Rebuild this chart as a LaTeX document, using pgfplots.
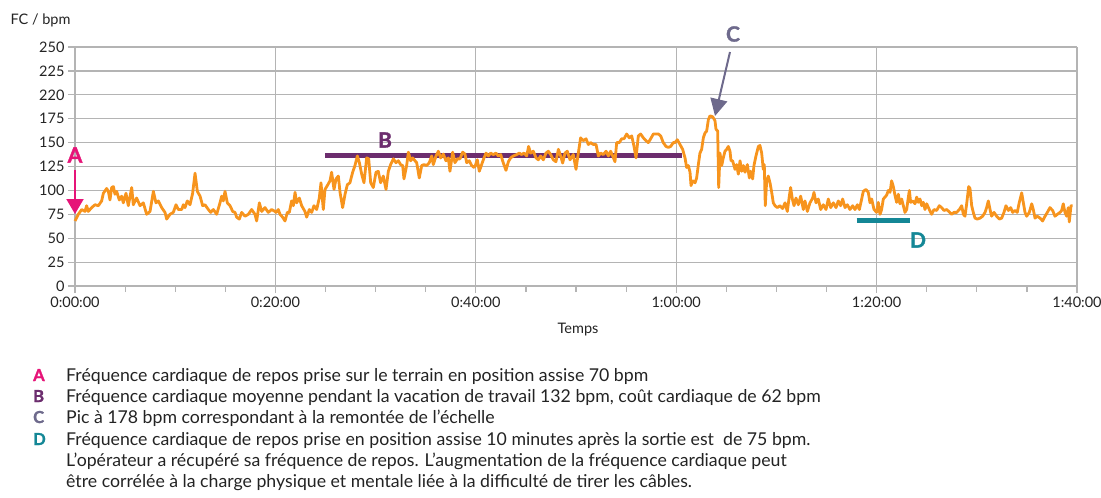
\documentclass[border=0pt]{standalone}
\usepackage{pgfplots}
\pgfplotsset{compat=1.18}
\usepackage{fontspec}
\setmainfont{Lato}
\newfontfamily\heavy{Lato}[BoldFeatures={FakeBold=1.6}]
\usetikzlibrary{arrows.meta}
\definecolor{hr}{RGB}{247,148,29}
\definecolor{grd}{RGB}{180,180,180}
\definecolor{cA}{RGB}{230,20,120}
\definecolor{cB}{RGB}{108,45,110}
\definecolor{cC}{RGB}{110,106,140}
\definecolor{cD}{RGB}{20,135,150}
\definecolor{txt}{RGB}{35,35,35}
\begin{document}
\begin{tikzpicture}
\path[use as bounding box] (0pt,0pt) rectangle (1101pt,-498pt);
\begin{axis}[
 at={(75pt,-286pt)}, anchor=south west, scale only axis, width=1002pt, height=239pt,
 xmin=0, xmax=100, ymin=0, ymax=250,
 axis lines=left, axis line style={-, draw=grd, line width=1.2pt},
 xtick={0,20,...,100}, xticklabels={0:00:00,0:20:00,0:40:00,1:00:00,1:20:00,1:40:00},
 minor x tick num=3,
 ytick={0,25,...,250}, yticklabels={0,25,50,75,100,125,150,175,220,225,250},
 grid=major, major grid style={draw=grd, line width=1.2pt},
 tick align=outside, major tick length=7pt, minor tick length=6pt,
 tick style={draw=grd, line width=1.2pt},
 tick label style={font=\fontsize{14.5}{16}\selectfont, text=txt},
 clip=false,
]
\addplot[cB, line width=5pt] coordinates {(24.95,136) (60.6,136)};
\addplot[cD, line width=4.5pt] coordinates {(78.0,68.5) (83.3,68.5)};
\addplot[hr, line width=2.8pt, line join=round] coordinates {
(0,68) (0.33,75) (0.67,80) (1.0,78) (1.16,84) (1.33,78) (1.66,82) (2.0,85) (2.33,84) (2.66,89) (2.83,97) (3.16,102) (3.33,99) (3.49,90) (3.66,103) (3.83,104) (3.99,96) (4.16,99) (4.42,90) (4.66,94) (4.82,87) (5.09,97) (5.32,84) (5.66,103) (5.82,85) (6.15,92) (6.49,84) (6.82,87) (7.15,75) (7.49,78) (7.82,99) (8.08,87) (8.32,89) (8.65,82) (8.98,77) (9.15,70) (9.48,75) (9.81,77) (10.08,85) (10.31,80) (10.65,80) (10.81,85) (10.98,82) (11.21,89) (11.48,85) (11.74,97) (11.98,118) (12.21,99) (12.48,94) (12.74,84) (12.97,85) (13.31,80) (13.54,77) (13.81,80) (14.14,75) (14.47,87) (14.64,94) (14.80,89) (14.97,99) (15.2,87) (15.47,84) (15.74,78) (15.97,77) (16.13,72) (16.4,70) (16.63,77) (16.97,73) (17.3,75) (17.63,80) (17.96,75) (18.13,68) (18.4,87) (18.63,78) (18.96,82) (19.29,77) (19.63,80) (19.96,78)
(20.06,77) (20.29,80) (20.46,75) (20.72,72) (20.96,68) (21.19,77) (21.39,77) (21.62,89) (21.79,84) (21.96,98) (22.12,87) (22.39,92) (22.62,84) (22.95,78) (23.12,72) (23.39,80) (23.62,77) (23.85,84) (24.12,80) (24.38,92) (24.55,108) (24.78,80) (24.95,101) (25.18,105) (25.45,110) (25.61,119) (25.85,101) (26.05,112) (26.28,115) (26.45,98) (26.71,82) (26.95,96) (27.18,106) (27.44,108) (27.71,119) (27.94,126) (28.18,136) (28.38,129) (28.61,117) (28.84,108) (29.11,134) (29.31,133) (29.51,108) (29.77,103) (30.04,119) (30.27,120) (30.5,108) (30.77,115) (31.04,101) (31.27,120) (31.5,127) (31.77,133) (32.03,129) (32.27,131) (32.5,127) (32.7,126) (32.83,112) (33.1,126) (33.27,140) (33.5,131) (33.7,134) (33.93,131) (34.1,129) (34.36,113) (34.6,126) (34.83,127) (35.1,126) (35.36,129) (35.6,136) (35.76,127) (36.03,136) (36.26,141) (36.49,134) (36.76,138) (37.02,131) (37.26,134) (37.42,120) (37.69,140) (37.92,129) (38.16,133) (38.42,133) (38.69,140) (38.92,138) (39.09,129) (39.35,131) (39.59,126) (39.82,124)
(39.92,125) (40.15,132) (40.35,120) (40.58,127) (40.82,134) (41.02,139) (41.25,136) (41.48,139) (41.75,137.5) (42.01,139) (42.25,136) (42.48,137.5) (42.75,128.6) (43.01,121) (43.25,130) (43.48,134) (43.74,136) (44.08,137.5) (44.34,139) (44.58,137.5) (44.81,139) (45.08,136) (45.27,146) (45.47,139) (45.74,141) (46.01,134) (46.24,132) (46.47,136) (46.74,132) (47.0,139) (47.24,141) (47.47,137.5) (47.74,132) (48.0,130) (48.24,143) (48.47,136) (48.67,128.6) (48.9,139) (49.13,141) (49.4,132) (49.73,137.5) (50.0,122) (50.23,139) (50.46,155) (50.73,152) (51.0,154) (51.23,148) (51.46,150) (51.73,148) (52.0,148) (52.23,136) (52.46,139) (52.73,137.5) (53.0,141) (53.23,136) (53.46,141) (53.66,136) (53.89,130) (54.06,150) (54.32,150) (54.56,154) (54.79,154) (55.06,159) (55.32,155) (55.56,157) (55.79,146) (55.99,134) (56.22,157) (56.45,159) (56.72,155) (56.98,152) (57.22,150) (57.45,154) (57.72,159) (57.98,159) (58.22,159) (58.45,157) (58.71,150) (58.98,146) (59.21,145) (59.45,146) (59.71,150)
(59.88,150) (60.11,153) (60.38,148) (60.64,143) (60.88,134) (61.04,124) (61.21,126) (61.38,119) (61.48,105) (61.64,110) (61.88,108) (62.04,113) (62.21,127) (62.37,139) (62.54,143) (62.71,155) (62.87,160) (63.04,162) (63.21,174) (63.37,178) (63.64,177) (63.87,173) (63.97,164) (64.14,162) (64.24,103) (64.37,139) (64.54,126) (64.7,134) (64.87,141) (65.04,143) (65.2,146) (65.37,141) (65.47,131) (65.63,131) (65.87,122) (66.03,127) (66.2,117) (66.37,131) (66.53,120) (66.7,126) (66.87,119) (67.1,127) (67.3,113) (67.43,120) (67.63,112) (67.76,126) (67.96,136) (68.2,146) (68.36,147) (68.53,139) (68.69,122) (68.79,127) (68.89,84) (69.03,110) (69.19,115) (69.36,108) (69.53,98) (69.69,87) (69.86,84) (70.09,82) (70.36,84) (70.62,81) (70.86,87) (71.09,78) (71.29,94) (71.42,103) (71.59,91) (71.76,84) (71.95,92) (72.19,85) (72.42,94) (72.69,80) (72.85,89) (73.09,78) (73.35,87) (73.62,92) (73.75,98) (73.95,87) (74.18,91) (74.42,80) (74.68,85) (74.95,80) (75.18,91) (75.42,82) (75.68,87) (75.95,82) (76.18,89) (76.41,84) (76.61,91) (76.85,82) (77.08,85) (77.34,80) (77.61,84) (77.84,80) (78.08,85) (78.28,80) (78.51,91) (78.67,99) (78.94,101) (79.17,98) (79.34,87) (79.51,91) (79.74,80)
(79.84,79) (80.0,77) (80.17,87.5) (80.34,75) (80.5,80) (80.67,91) (80.84,93) (81.0,95) (81.17,100) (81.34,98) (81.5,110) (81.67,104) (81.83,95) (82.0,87.5) (82.17,96) (82.33,86) (82.5,91) (82.67,84) (82.83,77) (83.0,80) (83.17,93) (83.27,100) (83.4,87.5) (83.6,89) (83.83,86) (84.0,93) (84.16,87.5) (84.33,91) (84.5,84) (84.66,87.5) (84.83,80) (85.0,86) (85.26,80) (85.49,75) (85.73,80) (85.99,79) (86.26,84) (86.49,82) (86.73,79) (86.99,80) (87.26,77.5) (87.49,75) (87.72,77) (87.99,77) (88.26,80) (88.49,84) (88.66,75) (88.82,73) (88.99,86) (89.19,104) (89.32,102) (89.49,84) (89.65,77) (89.82,71) (90.05,70) (90.32,71) (90.58,73) (90.82,77) (90.98,82) (91.15,89) (91.32,80) (91.48,73) (91.72,77) (91.98,73) (92.25,70) (92.48,71) (92.71,77) (92.91,84) (93.15,79) (93.38,82) (93.58,77) (93.81,79) (94.04,77) (94.24,87.5) (94.48,97.5) (94.64,87.5) (94.81,77) (94.98,73) (95.24,77) (95.48,86) (95.64,80) (95.81,71) (96.04,73) (96.31,71) (96.57,68) (96.81,73) (97.04,77) (97.3,82) (97.57,79) (97.8,73) (98.04,75) (98.3,77) (98.47,79) (98.63,86) (98.8,77) (98.97,73) (99.13,82) (99.23,67) (99.4,84) (99.57,84)
};
\end{axis}
% axis titles
\node[anchor=base west, font=\fontsize{14.5}{16}\selectfont, text=txt] at (7pt,-24pt) {FC / bpm};
\node[anchor=base, font=\fontsize{14.5}{16}\selectfont, text=txt] at (578pt,-333pt) {Temps};
% annotations
\node[font=\heavy\bfseries\fontsize{21}{22}\selectfont, text=cA] at (75pt,-155pt) {A};
\draw[cA, line width=2pt, -{Triangle[width=17pt,length=15pt]}] (75pt,-170pt) -- (75pt,-214pt);
\node[font=\heavy\bfseries\fontsize{21}{22}\selectfont, text=cB] at (385pt,-140pt) {B};
\node[font=\heavy\bfseries\fontsize{21}{22}\selectfont, text=cC] at (733pt,-34pt) {C};
\draw[cC, line width=2pt, -{Triangle[width=17pt,length=17pt]}] (730pt,-52pt) -- (715pt,-116pt);
\node[font=\heavy\bfseries\fontsize{21}{22}\selectfont, text=cD] at (918pt,-240pt) {D};
% legend
\begin{scope}[every node/.style={anchor=base west, font=\fontsize{17.7}{19}\selectfont, text=txt, inner sep=0pt}]
\node[text=cA, font=\heavy\bfseries\fontsize{16.5}{17}\selectfont] at (33pt,-381pt) {A};
\node at (66pt,-381pt) {Fréquence cardiaque de repos prise sur le terrain en position assise 70 bpm};
\node[text=cB, font=\heavy\bfseries\fontsize{16.5}{17}\selectfont] at (33pt,-402pt) {B};
\node at (66pt,-402pt) {Fréquence cardiaque moyenne pendant la vacation de travail 132 bpm, coût cardiaque de 62 bpm};
\node[text=cC, font=\heavy\bfseries\fontsize{16.5}{17}\selectfont] at (33pt,-423pt) {C};
\node at (66pt,-423pt) {Pic à 178 bpm correspondant à la remontée de l’échelle};
\node[text=cD, font=\heavy\bfseries\fontsize{16.5}{17}\selectfont] at (33pt,-445pt) {D};
\node at (66pt,-445pt) {Fréquence cardiaque de repos prise en position assise 10 minutes après la sortie est~ de 75 bpm.};
\node at (66pt,-466pt) {L’opérateur a récupéré sa fréquence de repos. L’augmentation de la fréquence cardiaque peut};
\node at (66pt,-487pt) {être corrélée à la charge physique et mentale liée à la difficulté de tirer les câbles.};
\end{scope}
\end{tikzpicture}
\end{document}
